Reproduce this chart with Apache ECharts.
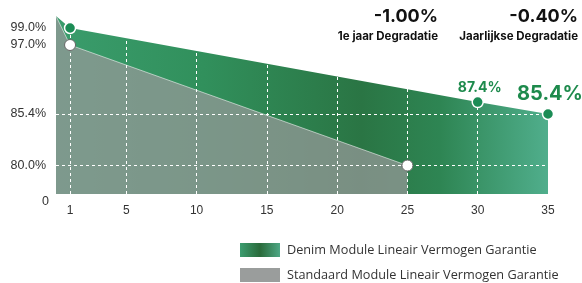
<!DOCTYPE html>
<html lang="nl">
<head>
  <meta charset="UTF-8">
  <title>Degradatie</title>
  <script src="https://cdn.jsdelivr.net/npm/echarts@6/dist/echarts.min.js"></script>
  <style>
    html, body { margin: 0; padding: 0; background: #fff; }
    #chart { width: 582px; height: 283px; }
  </style>
</head>
<body>
  <div id="chart"></div>
  <script>
    // data
    const denimYears = [0, 1, 30, 35];
    const denimValues = [100, 99, 87.4, 85.4];
    const standardYears = [0, 1, 25];
    const standardValues = [100, 97, 80];
    const xTicks = [1, 5, 10, 15, 20, 25, 30, 35];
    const xGrid = [1, 5, 10, 15, 20, 25, 30];
    const yTicks = [0, 80, 85.4, 97, 99];
    const yGrid = [80, 85.4];
    const denimName = 'Denim Module Lineair Vermogen Garantie';
    const standardName = 'Standaard Module Lineair Vermogen Garantie';

    // the original graphic uses a broken (non linear) percentage axis,
    // so map percentages onto a piecewise linear axis
    const yBreaks = [[0, 0], [80, 28.5], [85.4, 80], [97, 149], [99, 166], [100, 178]];
    function warp(v) {
      for (let i = 1; i < yBreaks.length; i++) {
        const [a0, b0] = yBreaks[i - 1];
        const [a1, b1] = yBreaks[i];
        if (v <= a1) return b0 + (v - a0) / (a1 - a0) * (b1 - b0);
      }
      return yBreaks[yBreaks.length - 1][1];
    }
    function label(v) {
      const t = yTicks.find(t => Math.abs(warp(t) - v) < 0.01);
      if (t === undefined) return '';
      return t === 0 ? '{z|0}' : '{p|' + t.toFixed(1) + '%}';
    }

    const denimData = denimYears.map((x, i) => [x, warp(denimValues[i])]);
    const standardData = standardYears.map((x, i) => [x, warp(standardValues[i])]);

    const denimFill = new echarts.graphic.LinearGradient(0, 0, 1, 0, [
      { offset: 0, color: '#3a9c6c' },
      { offset: 0.3, color: '#31905c' },
      { offset: 0.62, color: '#2a7544' },
      { offset: 0.78, color: '#2e8553' },
      { offset: 1, color: '#50ae8c' }
    ]);
    const legendFill = new echarts.graphic.LinearGradient(0, 0, 1, 0, [
      { offset: 0, color: '#3d9d70' },
      { offset: 0.5, color: '#2a6b3b' },
      { offset: 1, color: '#4ea785' }
    ]);

    const denimDots = denimYears.slice(1).map((x, i) => {
      const v = denimValues[i + 1];
      const item = { value: [x, warp(v)] };
      if (i > 0) {
        const big = i === denimYears.length - 2;
        item.label = {
          show: true,
          position: 'top',
          distance: big ? 4 : 1,
          offset: [2, 0],
          formatter: v.toFixed(1) + '%',
          fontSize: big ? 20 : 14,
          fontWeight: 'bold',
          fontFamily: 'Inter',
          color: '#1d8a4c'
        };
      }
      return item;
    });
    const standardDots = standardYears.slice(1).map((x, i) => [x, warp(standardValues[i + 1])]);

    const gridLine = { color: '#fff', width: 1, type: [3, 3] };
    const headStyle = { fontSize: 18, fontWeight: 'bold', color: '#111', fontFamily: 'Inter' };
    const subStyle = { fontSize: 11.5, fontWeight: 'bold', color: '#111', fontFamily: 'Inter' };
    const axisFont = { fontSize: 12.5, color: '#333', fontFamily: 'Liberation Sans' };

    const chart = echarts.init(document.getElementById('chart'));
    chart.setOption({
      animation: false,
      textStyle: { fontFamily: 'Liberation Sans' },
      title: [
        {
          text: '-1.00%', subtext: '1e jaar Degradatie',
          left: 438, top: 8, textAlign: 'right', padding: 0, itemGap: 5,
          textStyle: headStyle, subtextStyle: subStyle
        },
        {
          text: '-0.40%', subtext: 'Jaarlijkse Degradatie',
          left: 578, top: 8, textAlign: 'right', padding: 0, itemGap: 5,
          textStyle: headStyle, subtextStyle: subStyle
        }
      ],
      legend: {
        orient: 'vertical',
        left: 240, top: 243, padding: 0,
        itemWidth: 40, itemHeight: 14, itemGap: 11,
        selectedMode: false,
        textStyle: { fontSize: 12.7, color: '#333', fontFamily: 'Open Sans', padding: [0, 0, 0, 2] },
        data: [
          { name: denimName, icon: 'rect', itemStyle: { color: legendFill } },
          { name: standardName, icon: 'rect', itemStyle: { color: '#9a9d9c' } }
        ]
      },
      grid: { left: 56, right: 34, top: 16, bottom: 89, containLabel: false },
      xAxis: {
        type: 'value', min: 0, max: 35,
        axisLine: { show: false }, axisTick: { show: false }, splitLine: { show: false },
        axisLabel: { customValues: xTicks, margin: 11, fontSize: 12, color: '#333', fontFamily: 'Liberation Sans' }
      },
      yAxis: {
        type: 'value', min: 0, max: 178,
        axisLine: { show: false }, axisTick: { show: false }, splitLine: { show: false },
        axisLabel: {
          customValues: yTicks.map(warp), margin: 10,
          fontSize: 12.5, color: '#333', fontFamily: 'Liberation Sans',
          formatter: label,
          rich: {
            p: axisFont,
            z: Object.assign({ padding: [15, -3, 0, 0] }, axisFont)
          }
        }
      },
      series: [
        {
          name: denimName, type: 'line', data: denimData, z: 1,
          showSymbol: false, lineStyle: { width: 0 },
          areaStyle: { color: denimFill, opacity: 1 },
          color: '#2f8a58'
        },
        {
          name: standardName, type: 'line', data: standardData, z: 2,
          showSymbol: false,
          lineStyle: { width: 1, color: 'rgba(255,255,255,0.55)' },
          areaStyle: { color: 'rgba(150,153,152,0.74)', opacity: 1 },
          color: '#9a9d9c',
          markLine: {
            silent: true, symbol: 'none', z: 3,
            label: { show: false },
            lineStyle: gridLine,
            data: xGrid.map(x => ({ xAxis: x })).concat(yGrid.map(y => ({ yAxis: warp(y) })))
          }
        },
        {
          type: 'scatter', data: denimDots, z: 6,
          symbolSize: 11,
          itemStyle: { color: '#1b8c55', borderColor: '#fff', borderWidth: 1.5, opacity: 1 }
        },
        {
          type: 'scatter', data: standardDots, z: 6,
          symbolSize: 11,
          itemStyle: { color: '#fff', borderColor: '#666', borderWidth: 1, opacity: 1 }
        }
      ]
    });
  </script>
</body>
</html>
